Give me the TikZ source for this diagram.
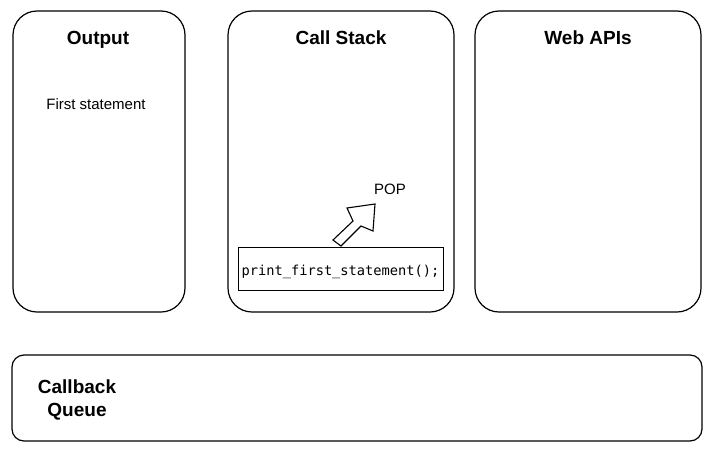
\documentclass[tikz,border=0pt]{standalone}
\usepackage{fontspec}
\setmainfont{Liberation Sans}
\newfontfamily\codefont{DejaVu Sans Mono}
\begin{document}
\begin{tikzpicture}[x=1pt,y=-1pt,
  panel/.style={draw=black,line width=1.2pt,rounded corners=24pt},
  title/.style={font=\fontsize{19}{22}\selectfont\bfseries,anchor=base,inner sep=0pt},
  label/.style={font=\fontsize{15}{17}\selectfont,anchor=base,inner sep=0pt},
  codebox/.style={draw=black,line width=1pt,minimum width=205pt,minimum height=43pt,inner sep=0pt},
  code/.style={font=\codefont\fontsize{13.7}{16}\selectfont,anchor=base,inner sep=0pt}]
\useasboundingbox (0,0) rectangle (720,458);

% three upper panels
\draw[panel] (13,11) rectangle (185,312);
\draw[panel] (228,11) rectangle (454,312);
\draw[panel] (475,11) rectangle (701,312);

\node[title] (outT) at (98,44.5) {Output};
\node[title] (csT) at (341,44.5) {Call Stack};
\node[title] (webT) at (588,44.5) {Web APIs};

\node[label] (first) at (96,109) {First statement};

% stack frame being removed
\node[codebox] (frame) at (340.5,268.5) {};
\node[code] (frameT) at (340.5,275) {print\_first\_statement();};
\node[label] (pop) at (390,194) {POP};

% hollow block arrow
\draw[line width=1.1pt,fill=white,line join=miter]
  (375,204) -- (347,208) -- (353,221) -- (333,240) -- (341,246) -- (361,226) -- (373,231) -- cycle;

% callback queue
\draw[panel,rounded corners=12pt] (12,355) rectangle (702,441);
\node[title] (cbq1) at (77,393) {Callback};
\node[title] (cbq2) at (77,416.5) {Queue};
\end{tikzpicture}
\end{document}
